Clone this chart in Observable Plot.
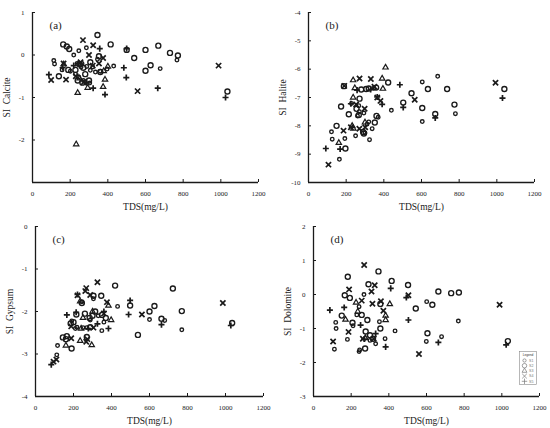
<!DOCTYPE html>
<html><head><meta charset="utf-8">
<script src="https://cdn.jsdelivr.net/npm/d3@7"></script>
<script src="https://cdn.jsdelivr.net/npm/@observablehq/plot@0.6"></script>
<style>
body{margin:0;background:#fff;}
#wrap{position:relative;width:550px;height:428px;font-family:"Liberation Serif",serif;}
.panel{position:absolute;width:275px;height:214px;}
#legend{position:absolute;}
</style></head><body><div id="wrap"></div>
<script>
const tdsTicks = [0, 200, 400, 600, 800, 1000, 1200];
const seriesNames = ["S1", "S2", "S3", "S4", "S5"];

// (a) SI Calcite
const calciteSmall = [[113,-0.13],[117,-0.21],[219,0.0],[246,0.1],[286,0.17],[431,-0.26],[157,-0.35],[201,-0.38],[246,-0.52],[304,-0.66],[334,-0.4],[360,-0.38],[396,-0.33],[263,-0.2],[307,-0.36],[237,-0.2],[678,-0.32],[767,-0.12],[270,-0.6],[288,-0.27],[320,-0.28],[228,-0.45],[345,-0.1],[258,-0.28]];
const calciteBig = [[163,0.25],[182,0.2],[195,0.14],[345,0.47],[415,0.25],[668,0.22],[730,0.05],[772,-0.01],[600,0.12],[500,0.12],[540,-0.07],[627,-0.24],[600,-0.37],[1035,-0.86],[353,-0.03],[140,-0.5],[228,-0.35],[307,-0.17],[270,-0.3],[250,-0.22],[300,-0.6],[280,-0.45],[360,-0.4],[190,-0.35],[240,-0.6],[265,-0.65]];
const calciteTri = [[232,-2.1],[240,-0.89],[385,-0.58],[375,-0.75],[293,-0.77],[378,-0.38],[400,-0.27],[166,-0.22],[250,-0.55]];
const calciteCross = [[268,0.35],[322,0.23],[300,0.0],[375,-0.07],[353,-0.2],[165,-0.2],[99,-0.59],[178,-0.58],[272,-0.64],[558,-0.85],[988,-0.25],[255,-0.17],[230,-0.5],[320,-0.25]];
const calcitePlus = [[87,-0.46],[357,0.15],[485,-0.3],[498,-0.53],[665,-0.78],[1025,-1.0],[385,-0.93],[322,-0.78],[287,-0.65],[219,-0.25],[500,0.15],[160,-0.3],[245,-0.2]];

// (b) SI Halite
const haliteSmall = [[347,-6.67],[228,-7.21],[267,-7.29],[294,-7.55],[370,-7.7],[440,-7.45],[320,-7.86],[311,-7.94],[250,-8.35],[122,-8.21],[126,-8.47],[193,-8.45],[338,-8.1],[164,-9.18],[324,-8.49],[604,-6.45],[604,-7.85],[686,-6.25],[780,-7.57],[270,-7.5],[260,-7.65],[300,-8.25]];
const haliteBig = [[423,-6.47],[188,-6.6],[306,-6.7],[320,-6.68],[359,-6.65],[547,-6.85],[503,-7.18],[271,-7.04],[173,-7.32],[214,-7.59],[267,-7.62],[361,-7.65],[352,-7.88],[149,-8.0],[196,-8.8],[294,-8.27],[290,-8.22],[604,-7.37],[634,-6.7],[736,-6.7],[775,-7.25],[673,-7.58],[1040,-6.7],[280,-6.72],[255,-7.4]];
const haliteTri = [[409,-5.94],[237,-6.39],[391,-6.33],[246,-6.67],[395,-6.69],[237,-7.0],[232,-8.0],[161,-8.6],[300,-7.88],[238,-8.1]];
const haliteCross = [[106,-9.37],[190,-6.59],[271,-6.33],[331,-6.35],[253,-7.25],[298,-7.4],[301,-8.05],[186,-8.17],[365,-7.0],[382,-7.12],[564,-7.08],[993,-6.48],[350,-6.62],[225,-8.05],[270,-8.1]];
const halitePlus = [[92,-8.8],[168,-8.82],[258,-6.74],[485,-6.55],[503,-7.35],[391,-7.24],[365,-6.98],[673,-7.72],[1030,-7.02],[225,-7.22],[330,-6.72]];

// (c) SI Gypsum
const gypsumSmall = [[244,-1.77],[305,-1.7],[432,-1.88],[191,-2.22],[218,-2.37],[288,-2.2],[349,-2.45],[116,-2.8],[112,-3.02],[600,-2.19],[680,-2.21],[770,-2.43],[360,-2.25],[250,-2.38],[330,-2.1],[210,-2.4],[270,-2.38]];
const gypsumBig = [[419,-1.39],[305,-1.63],[346,-1.63],[244,-1.8],[498,-1.86],[200,-2.25],[185,-2.28],[215,-2.07],[260,-2.05],[314,-2.0],[350,-2.08],[285,-2.15],[288,-2.37],[270,-2.6],[144,-2.61],[160,-2.65],[165,-2.58],[190,-2.87],[539,-2.55],[723,-1.46],[626,-1.87],[600,-2.0],[770,-1.99],[663,-2.17],[1035,-2.27],[370,-2.15],[300,-2.1]];
const gypsumTri = [[235,-1.76],[384,-1.86],[235,-2.69],[296,-2.79],[160,-2.8],[250,-2.15],[240,-2.4],[398,-2.2],[300,-2.0]];
const gypsumCross = [[326,-1.31],[267,-1.45],[262,-1.52],[288,-1.61],[221,-1.62],[376,-1.78],[188,-2.35],[188,-2.63],[267,-2.71],[95,-3.18],[110,-3.13],[560,-2.07],[986,-1.8],[360,-2.05],[305,-2.38],[273,-2.65]];
const gypsumPlus = [[221,-1.6],[498,-1.74],[490,-2.07],[165,-2.08],[214,-2.02],[326,-2.29],[384,-2.4],[83,-3.25],[663,-2.31],[1028,-2.33],[360,-2.0],[278,-2.4]];

// (d) SI Dolomite
const dolomiteSmall = [[268,0.0],[242,-0.36],[118,-0.82],[120,-1.0],[210,-0.92],[433,-1.07],[180,-1.32],[601,-0.21],[769,-0.78],[680,-1.24],[599,-1.38],[111,-1.61],[242,-1.68],[245,-1.63],[300,-1.35],[330,-1.45],[230,-0.6],[380,-1.3],[350,-0.8]];
const dolomiteBig = [[345,0.68],[182,0.52],[415,0.4],[292,0.3],[502,0.28],[663,0.09],[731,0.04],[772,0.06],[166,-0.02],[193,-0.1],[631,-0.3],[543,-0.41],[256,-0.6],[286,-0.75],[207,-0.83],[277,-1.09],[605,-1.14],[316,-1.3],[1032,-1.37],[274,-1.59],[150,-0.62],[355,-1.0],[355,-0.28],[300,-1.2]];
const dolomiteTri = [[226,-0.24],[405,-0.28],[383,-0.62],[383,-0.75],[170,-0.74],[235,-0.5],[275,-1.28]];
const dolomiteCross = [[269,0.87],[325,0.27],[189,0.15],[308,0.09],[256,-0.18],[313,-0.27],[504,-0.02],[371,-0.48],[186,-1.1],[104,-1.38],[262,-1.3],[988,-0.3],[560,-1.75],[358,-0.2],[320,-1.3]];
const dolomitePlus = [[410,0.18],[493,-0.09],[163,-0.38],[87,-0.46],[504,-0.75],[269,-1.31],[663,-1.41],[1023,-1.48],[383,-1.54],[330,-1.15],[250,-0.9]];

const styles = [
  {symbol: "circle", r: 1.8, sw: 1.35},
  {symbol: "circle", r: 2.5, sw: 1.4},
  {symbol: "triangle", r: 2.0, sw: 1.2},
  {symbol: "times", r: 2.5, sw: 1.7},
  {symbol: "plus", r: 2.1, sw: 1.7}
];

const panels = [
  {tag: "(a)", label: "SI  Calcite", domain: [-3, 1], ticks: [-2, -1, 0, 1], left: 0, top: 0, ml: 32, mr: 17,
   series: [calciteSmall, calciteBig, calciteTri, calciteCross, calcitePlus]},
  {tag: "(b)", label: "SI  Halite", domain: [-10, -4], ticks: [-10, -9, -8, -7, -6, -5, -4], left: 275, top: 0, ml: 33, mr: 16,
   series: [haliteSmall, haliteBig, haliteTri, haliteCross, halitePlus]},
  {tag: "(c)", label: "SI  Gypsum", domain: [-4, 0], ticks: [-4, -3, -2, -1, 0], left: 0, top: 214, ml: 35, mr: 12,
   series: [gypsumSmall, gypsumBig, gypsumTri, gypsumCross, gypsumPlus]},
  {tag: "(d)", label: "SI  Dolomite", domain: [-3, 2], ticks: [-3, -2, -1, 0, 1, 2], left: 275, top: 214, ml: 38, mr: 11,
   series: [dolomiteSmall, dolomiteBig, dolomiteTri, dolomiteCross, dolomitePlus]}
];

const wrap = document.getElementById("wrap");
const ink = "#1a1a1a";

for (const p of panels) {
  const marks = [];
  p.series.forEach((arr, i) => {
    const s = styles[i];
    marks.push(Plot.dot(arr, {x: d => d[0], y: d => d[1], symbol: () => s.symbol, r: s.r,
      stroke: ink, strokeWidth: s.sw, fill: "none"}));
  });
  marks.push(Plot.ruleY([p.domain[0]], {stroke: ink, strokeWidth: 1.3}));
  marks.push(Plot.ruleX([0], {stroke: ink, strokeWidth: 1.3}));
  marks.push(Plot.axisX({ticks: tdsTicks, tickSize: -3, tickPadding: 12, tickFormat: d => String(d),
    label: "TDS(mg/L)", labelAnchor: "center", labelArrow: "none", labelOffset: 27, fontSize: 9.5}));
  marks.push(Plot.axisY({ticks: p.ticks, tickSize: -3, tickPadding: 11, tickFormat: d => String(d),
    label: p.label, labelAnchor: "center", labelArrow: "none", labelOffset: 29, fontSize: 9.5}));
  marks.push(Plot.text([p.tag], {frameAnchor: "top-left", dx: 17, dy: 9, fontSize: 11, fill: ink}));

  const svg = Plot.plot({
    width: 275, height: 214,
    marginLeft: p.ml, marginRight: p.mr, marginTop: 12, marginBottom: 32,
    style: {fontFamily: "Liberation Serif", fontSize: "7px", color: ink, background: "transparent"},
    x: {domain: [0, 1200]},
    y: {domain: p.domain},
    symbol: {type: "identity"},
    marks
  });
  svg.setAttribute("font-family", "Liberation Serif");
  svg.querySelectorAll("g").forEach(g => { if (g.getAttribute("font-family")) g.setAttribute("font-family", "Liberation Serif"); });
  svg.querySelectorAll("[aria-label='x-axis tick label'] text, [aria-label='y-axis tick label'] text").forEach(t => { t.setAttribute("font-size", "7"); t.setAttribute("font-family", "Liberation Serif"); });
  const div = document.createElement("div");
  div.className = "panel";
  div.style.left = p.left + "px";
  div.style.top = p.top + "px";
  div.appendChild(svg);
  wrap.appendChild(div);
}

// legend box (panel d, bottom right)
const lg = d3.create("svg").attr("id", "legend").attr("width", 18).attr("height", 34)
  .style("left", "519px").style("top", "351px");
lg.append("rect").attr("x", 0.5).attr("y", 0.5).attr("width", 17).attr("height", 33)
  .attr("fill", "#fff").attr("stroke", "#888").attr("stroke-width", 0.6);
lg.append("text").attr("x", 9).attr("y", 5).attr("text-anchor", "middle")
  .attr("font-size", 3.2).attr("font-family", "Liberation Sans").attr("fill", "#333").text("Legend");
const symMap = {circle: d3.symbolCircle, triangle: d3.symbolTriangle, times: d3.symbolTimes, plus: d3.symbolPlus};
styles.forEach((s, i) => {
  const y = 9.5 + i * 5.2;
  lg.append("path").attr("d", d3.symbol(symMap[s.symbol], Math.PI * (s.r * 0.9) ** 2)())
    .attr("transform", `translate(5.5,${y})`).attr("fill", "none").attr("stroke", "#777").attr("stroke-width", 0.7);
  lg.append("text").attr("x", 10).attr("y", y + 1.3).attr("font-size", 3.6)
    .attr("font-family", "Liberation Sans").attr("fill", "#777").text(seriesNames[i]);
});
wrap.appendChild(lg.node());
</script></body></html>
